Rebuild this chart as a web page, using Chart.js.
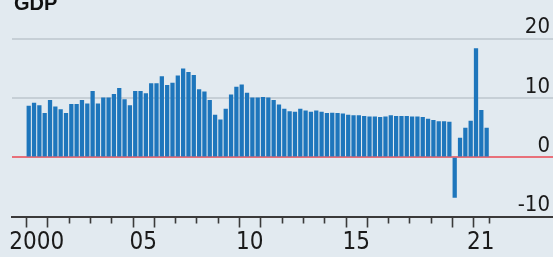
<!DOCTYPE html>
<html>
<head>
<meta charset="utf-8">
<script src="https://cdn.jsdelivr.net/npm/chart.js@4.4.1/dist/chart.umd.min.js"></script>
<style>
  html, body { margin: 0; padding: 0; background: #e2eaf0; }
  #wrap { width: 553px; height: 257px; position: relative; }
  canvas { display: block; }
</style>
</head>
<body>
<div id="wrap"><canvas id="c" width="553" height="257"></canvas></div>
<script>
// China GDP, % change on a year earlier, quarterly 2000Q1 - 2021Q3
const startYear = 2000;
const gdp2000s = [8.6, 9.1, 8.7, 7.4,  9.6, 8.5, 8.0, 7.4,  8.9, 8.9, 9.6, 9.0,
                  11.1, 9.0, 10.0, 10.0,  10.6, 11.6, 9.7, 8.7,  11.1, 11.1, 10.7, 12.4,
                  12.4, 13.6, 12.1, 12.5,  13.7, 14.9, 14.3, 13.8,  11.4, 11.0, 9.6, 7.1,
                  6.3, 8.1, 10.5, 11.8];
const gdp2010s = [12.2, 10.8, 10.0, 10.0,  10.1, 10.0, 9.6, 8.8,  8.1, 7.7, 7.6, 8.1,
                  7.8, 7.6, 7.8, 7.6,  7.4, 7.45, 7.4, 7.3,  7.1, 7.0, 7.0, 6.9,
                  6.8, 6.8, 6.7, 6.8,  7.0, 6.9, 6.9, 6.9,  6.8, 6.8, 6.7, 6.4,
                  6.2, 6.0, 6.0, 5.9];
const gdp2020s = [-6.8, 3.2, 4.9, 6.1,  18.3, 7.9, 4.9];
const gdpValues = gdp2000s.concat(gdp2010s, gdp2020s);

const xLabelPositions = [2000.5, 2005.5, 2010.5, 2015.5, 2021.35];
const xLabelTexts = ['2000', '05', '10', '15', '21'];
const tickYears = [2000, 2001, 2002, 2003, 2004, 2005, 2006, 2007, 2008, 2009, 2010,
                   2011, 2012, 2013, 2014, 2015, 2016, 2017, 2018, 2019, 2020, 2021, 2021.75];
const longTickYears = [2000, 2001, 2005, 2006, 2010, 2011, 2015, 2016, 2020, 2021];
const yTicks = [-10, 0, 10, 20];

const points = gdpValues.map((v, i) => ({ x: startYear + (i + 0.5) / 4, y: v }));

const FONT = '"Liberation Sans Narrow", "DejaVu Sans Condensed", "Roboto", sans-serif';

const yearTicksPlugin = {
  id: 'yearTicks',
  afterDraw(chart) {
    const ctx = chart.ctx;
    const xs = chart.scales.x;
    const top = chart.chartArea.bottom;
    ctx.save();
    ctx.strokeStyle = '#3a3a3a';
    ctx.lineWidth = 1.6;
    tickYears.forEach(yr => {
      const px = Math.round(xs.getPixelForValue(yr)) + 0.5;
      const len = longTickYears.includes(yr) ? 11 : 7;
      ctx.beginPath();
      ctx.moveTo(px, top);
      ctx.lineTo(px, top + len);
      ctx.stroke();
    });
    ctx.restore();
  }
};

const titlePlugin = {
  id: 'cutTitle',
  afterDraw(chart) {
    const ctx = chart.ctx;
    ctx.save();
    ctx.fillStyle = '#111';
    ctx.font = 'bold 20px "Liberation Sans", Arial, sans-serif';
    ctx.textBaseline = 'alphabetic';
    ctx.textAlign = 'left';
    ctx.fillText('GDP', 14, 10);
    ctx.restore();
  }
};

new Chart(document.getElementById('c'), {
  type: 'bar',
  data: {
    datasets: [{
      data: points,
      backgroundColor: '#1e76bc',
      borderWidth: 0,
      barThickness: 3.6
    }]
  },
  options: {
    responsive: false,
    animation: false,
    events: [],
    layout: { padding: { top: 38.5, left: 12, right: 0, bottom: 0 } },
    plugins: { legend: { display: false }, tooltip: { enabled: false }, title: { display: false } },
    scales: {
      x: {
        type: 'linear',
        offset: false,
        bounds: 'data',
        min: 1999.34,
        max: 2024.74,
        afterBuildTicks(scale) {
          scale.ticks = xLabelPositions.map(v => ({ value: v }));
        },
        afterFit(scale) { scale.height = 40.5; scale.paddingLeft = 0; scale.paddingRight = 0; },
        grid: { display: false, drawTicks: false },
        border: { display: true, color: '#3a3a3a', width: 2 },
        ticks: {
          autoSkip: false,
          maxRotation: 0,
          padding: 12,
          color: '#1a1a1a',
          font: { family: FONT, size: 24 },
          callback(value) {
            const idx = xLabelPositions.findIndex(p => Math.abs(p - value) < 0.01);
            return idx >= 0 ? xLabelTexts[idx] : '';
          }
        }
      },
      y: {
        position: 'right',
        min: -10,
        max: 20,
        afterBuildTicks(scale) {
          scale.ticks = yTicks.map(v => ({ value: v }));
        },
        afterFit(scale) { scale.width = 0; },
        grid: {
          drawTicks: false,
          color: ctx => (ctx.tick && ctx.tick.value === 0) ? '#e8707a' : '#c6cfd6',
          lineWidth: 2
        },
        border: { display: false },
        ticks: {
          mirror: true,
          padding: -3,
          labelOffset: -11,
          color: '#1a1a1a',
          font: { family: FONT, size: 22 },
          callback: v => String(v)
        }
      }
    }
  },
  plugins: [yearTicksPlugin, titlePlugin]
});
</script>
</body>
</html>
